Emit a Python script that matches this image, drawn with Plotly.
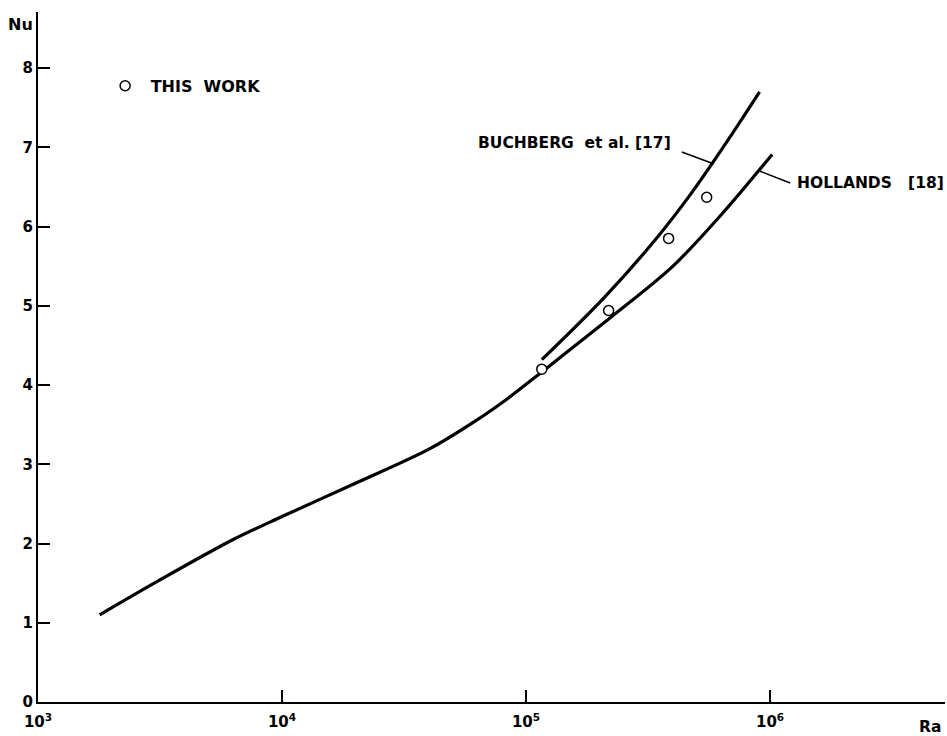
import numpy as np
import plotly.graph_objects as go

# Hollands [18] correlation (continues down to low Ra)
hollands_ra = [1790, 3160, 6310, 10000, 20000, 40000, 63000, 85000,
               120000, 224000, 400000, 640000, 1020000]
hollands_nu = [1.10, 1.54, 2.05, 2.34, 2.76, 3.19, 3.56, 3.84,
               4.20, 4.86, 5.50, 6.17, 6.91]

# Buchberg et al. [17] correlation
buchberg_ra = [116000, 210000, 336000, 468000, 652000, 906000]
buchberg_nu = [4.32, 5.11, 5.82, 6.39, 7.03, 7.70]

# Measured points (this work)
work_ra = [116000, 218000, 384000, 550000]
work_nu = [4.20, 4.94, 5.85, 6.37]

# Leader lines from the curve labels to their curves
buchberg_leader_ra = [435000, 575000]
buchberg_leader_nu = [6.94, 6.80]
hollands_leader_ra = [906000, 1210000]
hollands_leader_nu = [6.70, 6.55]

x_tickvals = [1e3, 1e4, 1e5, 1e6]
x_ticktext = ["10<sup>3</sup>", "10<sup>4</sup>", "10<sup>5</sup>", "10<sup>6</sup>"]
y_tickvals = [0, 1, 2, 3, 4, 5, 6, 7, 8]

FONT = "DejaVu Sans"
INK = "black"

fig = go.Figure()

fig.add_trace(go.Scatter(
    x=hollands_ra, y=hollands_nu, mode="lines",
    line=dict(color=INK, width=3.2, shape="spline", smoothing=0.9),
    showlegend=False, hoverinfo="skip"))

fig.add_trace(go.Scatter(
    x=buchberg_ra, y=buchberg_nu, mode="lines",
    line=dict(color=INK, width=3.2, shape="spline", smoothing=1.0),
    showlegend=False, hoverinfo="skip"))

for lx, ly in [(buchberg_leader_ra, buchberg_leader_nu),
               (hollands_leader_ra, hollands_leader_nu)]:
    fig.add_trace(go.Scatter(
        x=lx, y=ly, mode="lines", line=dict(color=INK, width=1.6),
        showlegend=False, hoverinfo="skip"))

fig.add_trace(go.Scatter(
    x=work_ra, y=work_nu, mode="markers", name="<b> THIS  WORK</b>",
    marker=dict(symbol="circle", size=10, color="white",
                line=dict(color=INK, width=1.5)),
    showlegend=True))

fig.add_annotation(
    x=np.log10(400000), y=7.06, xref="x", yref="y",
    text="<b>BUCHBERG  et al. [17]</b>", showarrow=False,
    xanchor="right", yanchor="middle",
    font=dict(family=FONT, size=15.5, color=INK))

fig.add_annotation(
    x=np.log10(1270000), y=6.55, xref="x", yref="y",
    text="<b>HOLLANDS   [18]</b>", showarrow=False,
    xanchor="left", yanchor="middle",
    font=dict(family=FONT, size=15.5, color=INK))

# Axis titles
fig.add_annotation(x=-0.0198, y=0.9826, xref="paper", yref="paper",
                   text="<b>Nu</b>", showarrow=False,
                   xanchor="center", yanchor="middle",
                   font=dict(family=FONT, size=16, color=INK))
fig.add_annotation(x=0.9835, y=-0.0362, xref="paper", yref="paper",
                   text="<b>Ra</b>", showarrow=False,
                   xanchor="center", yanchor="middle",
                   font=dict(family=FONT, size=15.5, color=INK))

fig.update_xaxes(
    type="log", range=[3, 6.717],
    tickvals=x_tickvals, ticktext=x_ticktext,
    ticks="inside", ticklen=12, tickwidth=2, tickcolor=INK,
    ticklabelstandoff=5,
    showline=True, linewidth=2, linecolor=INK,
    showgrid=False, zeroline=False,
    tickfont=dict(family=FONT, size=15, color=INK, weight="bold"))

fig.update_yaxes(
    range=[0, 8.707], tickvals=y_tickvals,
    ticks="inside", ticklen=12, tickwidth=2, tickcolor=INK,
    showline=True, linewidth=2, linecolor=INK,
    showgrid=False, zeroline=False,
    tickfont=dict(family=FONT, size=15, color=INK, weight="bold"))

fig.update_layout(
    width=947, height=736,
    margin=dict(l=38, r=2, t=12, b=34),
    paper_bgcolor="white", plot_bgcolor="white",
    font=dict(family=FONT, color=INK),
    legend=dict(x=0.074, y=0.893, xanchor="left", yanchor="middle",
                bgcolor="rgba(0,0,0,0)",
                font=dict(family=FONT, size=16, color=INK)),
)

fig.write_html("out.html")
